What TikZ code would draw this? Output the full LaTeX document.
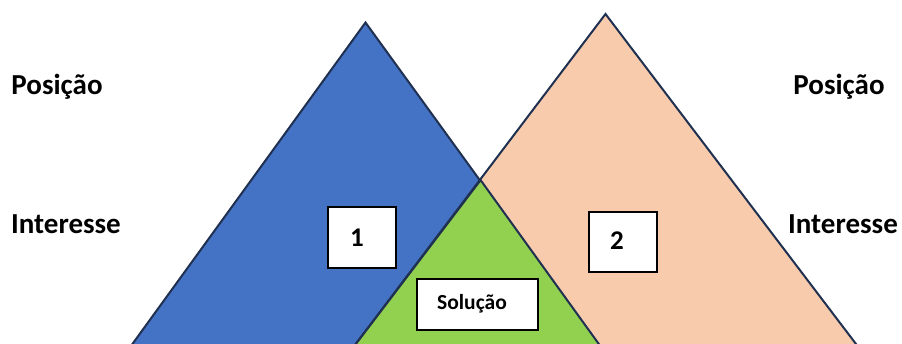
\documentclass[tikz,border=0pt]{standalone}
\usepackage{fontspec}
\setmainfont{Carlito}
\begin{document}
\begin{tikzpicture}[x=1pt,y=-1pt,
  tri/.style={draw=outline,line width=2pt,line join=miter},
  numbox/.style={draw=black,line width=1.3pt,fill=white,inner sep=0pt},
  boxtext/.style={inner sep=0pt,font=\bfseries\fontsize{27}{29}\selectfont},
  sidelabel/.style={font=\bfseries\fontsize{29}{31}\selectfont,inner sep=0pt}]
\definecolor{outline}{HTML}{1F3050}
\definecolor{triblue}{HTML}{4472C4}
\definecolor{tripeach}{HTML}{F8CBAD}
\definecolor{trigreen}{HTML}{92D050}
\useasboundingbox (0,0) rectangle (902,344);
\begin{scope}
\clip (0,0) rectangle (902,344);
% apexes and base corners (bases run below the frame)
\coordinate (bA) at (365.5,22.5);
\coordinate (bL) at (91.8,400);
\coordinate (bR) at (639.2,400);
\coordinate (pA) at (605.5,14);
\coordinate (pL) at (313.3,400);
\coordinate (pR) at (898.5,400);
\coordinate (gA) at (480.6,180.1);
\filldraw[tri,fill=triblue] (bA) -- (bL) -- (bR) -- cycle;
\filldraw[tri,fill=tripeach] (pA) -- (pL) -- (pR) -- cycle;
\filldraw[tri,fill=trigreen] (gA) -- (pL) -- (bR) -- cycle;
\end{scope}
\node[numbox,minimum width=68pt,minimum height=61pt] (one) at (362,237.5) {};
\node[boxtext] (oneT) at (357,237.5) {1};
\node[numbox,minimum width=68pt,minimum height=60pt] (two) at (623,242) {};
\node[boxtext] (twoT) at (617,241) {2};
\node[numbox,minimum width=121pt,minimum height=51pt] (sol) at (477.5,304.5) {};
\node[boxtext,font=\bfseries\fontsize{21.5}{23}\selectfont] (solT) at (472,304) {Solução};
\node[sidelabel] (posL) at (57,87) {Posição};
\node[sidelabel] (intL) at (66,224) {Interesse};
\node[sidelabel] (posR) at (839,87) {Posição};
\node[sidelabel] (intR) at (843,224) {Interesse};
\end{tikzpicture}
\end{document}
